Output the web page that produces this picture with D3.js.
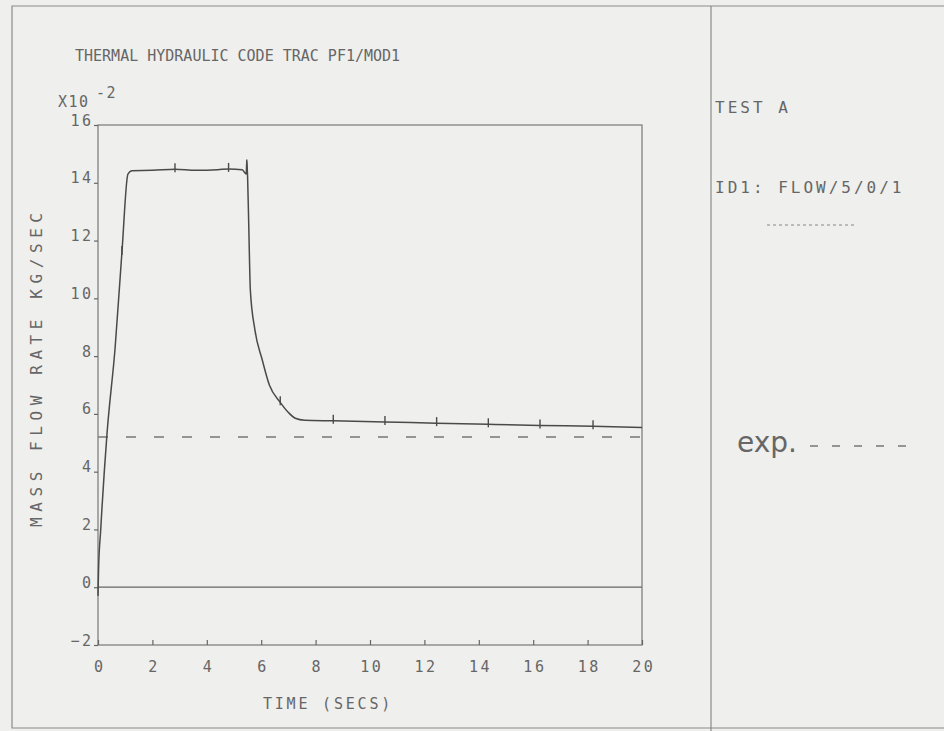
<!DOCTYPE html>
<html>
<head>
<meta charset="utf-8">
<script src="https://cdn.jsdelivr.net/npm/d3@7"></script>
<style>
  body { margin: 0; background: #efefed; }
  svg { display: block; }
</style>
</head>
<body>
<div class="canvas"></div>
<script>
// TRAC calculation (values x10^-2 kg/s)
const simTime = [0, 0.02, 0.1, 0.33, 0.63, 0.88, 1.1, 1.25, 2.0, 2.83, 3.6, 4.4, 4.8, 5.3, 5.45, 5.47, 5.5, 5.55, 5.6, 5.77, 6.03, 6.3, 6.7, 7.0, 7.25, 7.6, 8.65, 10.55, 12.45, 14.35, 16.25, 18.2, 20];
const simFlow = [-0.3, 0.6, 2.0, 5.3, 8.3, 11.6, 14.3, 14.42, 14.43, 14.47, 14.43, 14.45, 14.48, 14.45, 14.3, 14.75, 14.2, 12.2, 10.3, 8.9, 7.9, 7.0, 6.4, 6.05, 5.85, 5.78, 5.76, 5.72, 5.68, 5.64, 5.6, 5.57, 5.53];

// plot symbols along the calculated curve
const markTime = [0.88, 2.83, 4.8, 5.47, 6.7, 8.65, 10.55, 12.45, 14.35, 16.25, 18.2];
const markFlow = [11.6, 14.47, 14.48, 14.6, 6.4, 5.76, 5.72, 5.68, 5.64, 5.6, 5.57];

// experiment
const expTime = [0, 20];
const expFlow = [5.2, 5.2];

const xTicks = [0, 2, 4, 6, 8, 10, 12, 14, 16, 18, 20];
const yTicks = [-2, 0, 2, 4, 6, 8, 10, 12, 14, 16];

const ink = '#4a4a4a';
const textInk = '#666';
const mono = "'DejaVu Sans Mono', 'Liberation Mono', monospace";

const svg = d3.select('.canvas')
    .append('svg')
        .attr('width', 944)
        .attr('height', 731);

const x = d3.scaleLinear().domain([0, 20]).range([98, 642]);
const y = d3.scaleLinear().domain([-2, 16]).range([645, 125]);

// page frame
svg.append('path')
    .attr('d', 'M944,6 H12 V728 H944')
    .attr('fill', 'none')
    .attr('stroke', '#8a8a8a')
    .attr('stroke-width', 1.2);

svg.append('line')
    .attr('x1', 711).attr('x2', 711)
    .attr('y1', 6).attr('y2', 731)
    .attr('stroke', '#8a8a8a')
    .attr('stroke-width', 1.2);

// plot box
svg.append('rect')
    .attr('x', x(0))
    .attr('y', y(16))
    .attr('width', x(20) - x(0))
    .attr('height', y(-2) - y(16))
    .attr('fill', 'none')
    .attr('stroke', '#777')
    .attr('stroke-width', 1.2);

// zero line
svg.append('line')
    .attr('x1', x(0)).attr('x2', x(20))
    .attr('y1', y(0)).attr('y2', y(0))
    .attr('stroke', '#666')
    .attr('stroke-width', 1.2);

// axes
const xAxis = svg.append('g')
    .attr('transform', `translate(0, ${y(-2)})`)
    .call(d3.axisBottom(x).tickValues(xTicks).tickSizeInner(-5).tickSizeOuter(0).tickPadding(16));

const yAxis = svg.append('g')
    .attr('transform', `translate(${x(0)}, 0)`)
    .call(d3.axisLeft(y).tickValues(yTicks).tickSizeInner(4).tickSizeOuter(0).tickPadding(3));

[xAxis, yAxis].forEach(ax => {
    ax.select('.domain').remove();
    ax.selectAll('line').attr('stroke', '#666').attr('stroke-width', 1.2);
    ax.selectAll('text')
        .attr('fill', textInk)
        .attr('font-family', mono)
        .attr('font-size', 15)
        .attr('letter-spacing', 2.5);
});

xAxis.selectAll('text').attr('dx', 1.2);
yAxis.selectAll('text').attr('dy', 0).attr('dx', 2.5);

// experiment (dashed)
const line = d3.line()
    .x(d => x(d[0]))
    .y(d => y(d[1]));

svg.append('path')
    .datum(expTime.map((t, i) => [t, expFlow[i]]))
    .attr('fill', 'none')
    .attr('stroke', '#777')
    .attr('stroke-width', 1.6)
    .attr('stroke-dasharray', '10,18')
    .attr('d', line);

// calculation (solid)
svg.append('path')
    .datum(simTime.map((t, i) => [t, simFlow[i]]))
    .attr('fill', 'none')
    .attr('stroke', ink)
    .attr('stroke-width', 1.5)
    .attr('stroke-linejoin', 'round')
    .attr('d', line.curve(d3.curveMonotoneX));

svg.selectAll('line.mark')
    .data(markTime.map((t, i) => [t, markFlow[i]]))
    .enter()
    .append('line')
    .attr('class', 'mark')
    .attr('x1', d => x(d[0])).attr('x2', d => x(d[0]))
    .attr('y1', d => y(d[1]) - 6).attr('y2', d => y(d[1]) + 3)
    .attr('stroke', ink)
    .attr('stroke-width', 1.4);

// titles and labels
const addText = (txt, px, py, size, opts = {}) => svg.append('text')
    .attr('x', px)
    .attr('y', py)
    .attr('fill', textInk)
    .attr('font-family', opts.family || mono)
    .attr('font-size', size)
    .attr('letter-spacing', opts.spacing || 0)
    .attr('text-anchor', opts.anchor || 'start')
    .attr('transform', opts.transform || null)
    .text(txt);

addText('THERMAL HYDRAULIC CODE TRAC PF1/MOD1', 75, 61, 15);
addText('X10', 58, 107, 15, {spacing: 1.5});
addText('-2', 96, 98, 15, {spacing: 1.5});

addText('MASS FLOW RATE    KG/SEC', 0, 0, 16, {
    anchor: 'middle',
    transform: 'translate(42, 370) rotate(-90)'
})
    .attr('textLength', 314)
    .attr('lengthAdjust', 'spacing');

addText('TIME (SECS)', 328, 709, 15, {spacing: 2.8, anchor: 'middle'});

// right panel
addText('TEST A', 715, 113, 16, {spacing: 3});
addText('ID1: FLOW/5/0/1', 715, 193, 16, {spacing: 3});

svg.append('line')
    .attr('x1', 767).attr('x2', 855)
    .attr('y1', 225).attr('y2', 225)
    .attr('stroke', '#888')
    .attr('stroke-width', 1.2)
    .attr('stroke-dasharray', '3,3');

addText('exp.', 737, 452, 28, {family: "'DejaVu Sans', sans-serif"});

svg.append('line')
    .attr('x1', 810).attr('x2', 918)
    .attr('y1', 446).attr('y2', 446)
    .attr('stroke', '#777')
    .attr('stroke-width', 1.6)
    .attr('stroke-dasharray', '8,14');
</script>
</body>
</html>
